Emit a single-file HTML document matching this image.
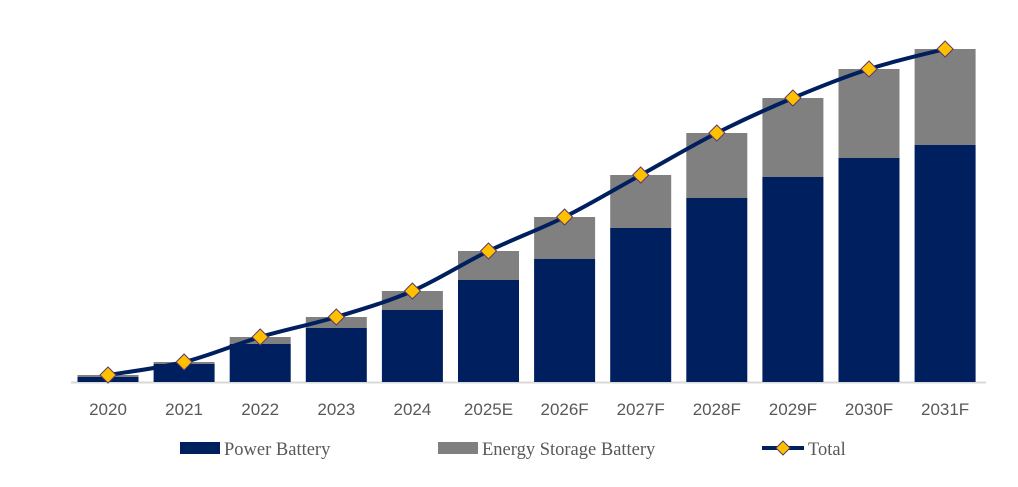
<!DOCTYPE html>
<html><head><meta charset="utf-8"><style>
body{margin:0;background:#fff;width:1018px;height:487px;overflow:hidden}
svg{display:block}
</style></head><body>
<svg id="chart" width="1018" height="487" viewBox="0 0 1018 487">
<line x1="71" y1="382.5" x2="986" y2="382.5" stroke="#d9d9d9" stroke-width="2"/>
<g id="bars"></g><g id="line"></g><g id="xlabels"></g>
<g>
<rect x="180" y="442" width="40" height="12" fill="#001f5f"/>
<text x="224" y="455" font-family="Liberation Serif, serif" font-size="18.5" fill="#595959">Power Battery</text>
<rect x="438" y="442" width="40" height="12" fill="#808080"/>
<text x="482" y="455" font-family="Liberation Serif, serif" font-size="18.5" fill="#595959">Energy Storage Battery</text>
<line x1="762" y1="448" x2="804" y2="448" stroke="#001f5f" stroke-width="4"/>
<path d="M783 441 L790 448 L783 455 L776 448Z" fill="#ffc000" stroke="#5b3a6b" stroke-width="1"/>
<text x="808" y="455" font-family="Liberation Serif, serif" font-size="18.5" fill="#595959">Total</text>
</g>
</svg>
<script>
const categories=["2020","2021","2022","2023","2024","2025E","2026F","2027F","2028F","2029F","2030F","2031F"];
const powerBattery=[5,18,38,54,72,102,123,154,184,205,224,237];
const storageBattery=[2,2,7,11,19,29,42,53,65,79,89,96];
const totalValues=[7,20,45,65,91,131,165,207,249,284,313,333];
const NS="http://www.w3.org/2000/svg";
const base=382, yScale=1.0, x0=108, step=76.1, bw=61;
const xPos=i=>x0+i*step;
const yPos=v=>base-v*yScale;
const bars=document.getElementById('bars');
categories.forEach((c,i)=>{
  const p=document.createElementNS(NS,'rect');
  p.setAttribute('x',xPos(i)-bw/2);p.setAttribute('y',yPos(powerBattery[i]));
  p.setAttribute('width',bw);p.setAttribute('height',powerBattery[i]*yScale);p.setAttribute('fill','#001f5f');
  
  
  bars.appendChild(p);
  const s=document.createElementNS(NS,'rect');
  s.setAttribute('x',xPos(i)-bw/2);s.setAttribute('y',yPos(powerBattery[i]+storageBattery[i]));
  s.setAttribute('width',bw);s.setAttribute('height',storageBattery[i]*yScale);s.setAttribute('fill','#808080');
  
  
  bars.appendChild(s);
  const t=document.createElementNS(NS,'text');
  t.setAttribute('x',xPos(i));t.setAttribute('y',415);t.setAttribute('text-anchor','middle');
  t.setAttribute('font-family','Liberation Sans, sans-serif');t.setAttribute('font-size','17');t.setAttribute('fill','#595959');
  t.textContent=c;
  
  
  document.getElementById('xlabels').appendChild(t);
});
const pts=totalValues.map((v,i)=>[xPos(i),yPos(v)]);
let d='M'+pts[0][0]+' '+pts[0][1];
for(let i=0;i<pts.length-1;i++){
  const p0=pts[Math.max(i-1,0)],p1=pts[i],p2=pts[i+1],p3=pts[Math.min(i+2,pts.length-1)];
  const c1=[p1[0]+(p2[0]-p0[0])/6,p1[1]+(p2[1]-p0[1])/6];
  const c2=[p2[0]-(p3[0]-p1[0])/6,p2[1]-(p3[1]-p1[1])/6];
  d+=' C'+c1.join(' ')+' '+c2.join(' ')+' '+p2.join(' ');
}
const lg=document.getElementById('line');
const path=document.createElementNS(NS,'path');
path.setAttribute('d',d);path.setAttribute('fill','none');path.setAttribute('stroke','#001f5f');path.setAttribute('stroke-width','4');


lg.appendChild(path);
pts.forEach((p,i)=>{
  const m=document.createElementNS(NS,'path');
  m.setAttribute('d',`M${p[0]} ${p[1]-8} L${p[0]+8} ${p[1]} L${p[0]} ${p[1]+8} L${p[0]-8} ${p[1]}Z`);
  m.setAttribute('fill','#ffc000');m.setAttribute('stroke','#5b3a6b');m.setAttribute('stroke-width','1');
  
  
  lg.appendChild(m);
});
</script>
</body></html>
